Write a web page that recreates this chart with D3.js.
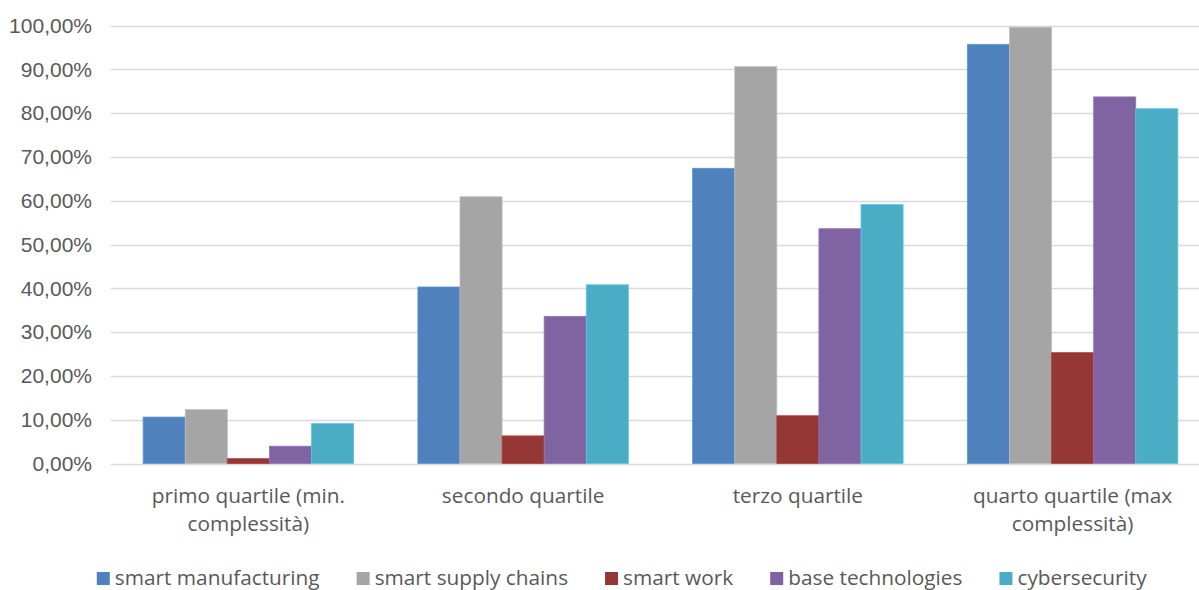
<!DOCTYPE html>
<html><head><meta charset="utf-8">
<script src="https://cdn.jsdelivr.net/npm/d3@7"></script>
<style>body{margin:0;background:#fff;overflow:hidden}svg{display:block}</style>
</head><body>
<svg id="c" width="1199" height="590"></svg>
<script>
const categories = [["primo quartile (min.", "complessità)"], ["secondo quartile"], ["terzo quartile"], ["quarto quartile (max", "complessità)"]];
const seriesNames = ["smart manufacturing", "smart supply chains", "smart work", "base technologies", "cybersecurity"];
const seriesColors = ["#4f81bd", "#a5a5a5", "#953735", "#8064a2", "#4bacc6"];
const smartManufacturing = [10.6, 40.3, 67.4, 95.7];
const smartSupplyChains = [12.3, 60.9, 90.6, 99.6];
const smartWork = [1.1, 6.3, 10.9, 25.3];
const baseTechnologies = [3.95, 33.6, 53.6, 83.7];
const cybersecurity = [9.1, 40.8, 59.1, 81.0];
const yTicks = [0, 10, 20, 30, 40, 50, 60, 70, 80, 90, 100];

(function () {
const series = [smartManufacturing, smartSupplyChains, smartWork, baseTechnologies, cybersecurity];
const svg = d3.select("#c");
const pLeft = 111, pRight = 1210, pTop = 25.5, pBottom = 463.5;
const catIdx = d3.range(categories.length);
const x0 = d3.scaleBand().domain(catIdx).range([pLeft, pRight]).paddingInner(0.234).paddingOuter(0.117);
const x1 = d3.scaleBand().domain(d3.range(series.length)).range([0, x0.bandwidth()]);
const y = d3.scaleLinear().domain([0, 100]).range([pBottom, pTop]);
const fmt = v => d3.format(".2f")(v).replace(".", ",") + "%";

// gridlines
svg.append("g").selectAll("line").data(yTicks).join("line")
  .attr("x1", pLeft).attr("x2", 1199)
  .attr("y1", d => Math.round(y(d)) + 0.5).attr("y2", d => Math.round(y(d)) + 0.5)
  .attr("stroke", "#d9d9d9").attr("stroke-width", 1.3);

// y axis labels
const yAxis = d3.axisLeft(y).tickValues(yTicks).tickFormat(fmt).tickSize(0).tickPadding(0);
const ga = svg.append("g").attr("transform", "translate(92,0)").call(yAxis);
ga.select(".domain").remove();
ga.selectAll("text").attr("font-family", "Liberation Sans, Arial, sans-serif").attr("font-size", 21).attr("fill", "#595959");

// bars
const g = svg.append("g");
catIdx.forEach(ci => {
  series.forEach((s, si) => {
    g.append("rect")
      .attr("x", x0(ci) + x1(si))
      .attr("y", y(s[ci]))
      .attr("width", x1.bandwidth())
      .attr("height", y(0) - y(s[ci]))
      .attr("fill", seriesColors[si])
      .attr("stroke", d3.color(seriesColors[si]).brighter(0.4))
      .attr("stroke-width", 0.8);
  });
});

// x labels
const xl = svg.append("g");
catIdx.forEach(ci => {
  categories[ci].forEach((line, li) => {
    xl.append("text")
      .attr("x", x0(ci) + x0.bandwidth() / 2)
      .attr("y", 503 + li * 28)
      .attr("text-anchor", "middle")
      .attr("font-family", "Open Sans, sans-serif").attr("font-size", 20.8)
      .attr("fill", "#595959").text(line);
  });
});

// legend
const lg = svg.append("g");
const items = lg.selectAll("g").data(seriesNames).join("g");
items.append("rect").attr("width", 13).attr("height", 13).attr("y", -12).attr("fill", (d, i) => seriesColors[i]);
items.append("text").attr("x", 18).attr("y", 1)
  .attr("font-family", "Open Sans, sans-serif").attr("font-size", 20.8).attr("fill", "#595959").text(d => d);
const widths = [];
items.each(function () { widths.push(this.getBBox().width); });
const gap = 37;
const total = d3.sum(widths) + gap * (widths.length - 1);
let cx = 622 - total / 2;
items.attr("transform", (d, i) => { const t = `translate(${cx},584)`; cx += widths[i] + gap; return t; });
})();
</script>
</body></html>
